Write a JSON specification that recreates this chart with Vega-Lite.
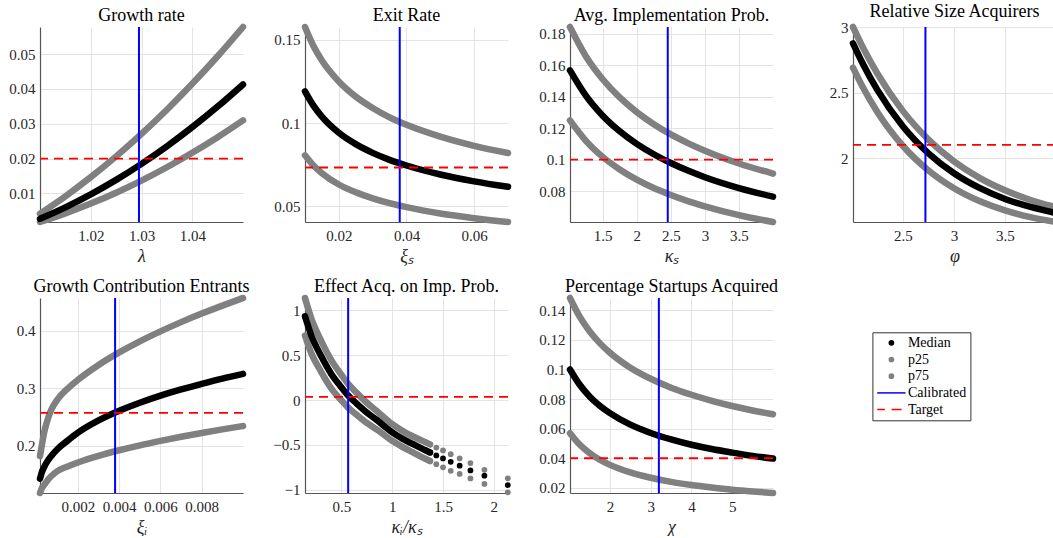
{
  "$schema": "https://vega.github.io/schema/vega-lite/v6.json",
  "usermeta": {"embedOptions": {"actions": false}},
  "background": "white",
  "padding": {"left": 7, "top": 3, "right": 0, "bottom": 0},
  "datasets": {
    "d1": [
      {"x": 1.010, "m": 0.0027, "lo": 0.0018, "hi": 0.0042},
      {"x": 1.015, "m": 0.00599, "lo": 0.00427, "hi": 0.00919},
      {"x": 1.020, "m": 0.00973, "lo": 0.00708, "hi": 0.01468},
      {"x": 1.025, "m": 0.01389, "lo": 0.01022, "hi": 0.02064},
      {"x": 1.030, "m": 0.0185, "lo": 0.0137, "hi": 0.0271},
      {"x": 1.035, "m": 0.02354, "lo": 0.01752, "hi": 0.03404},
      {"x": 1.040, "m": 0.02903, "lo": 0.02168, "hi": 0.04148},
      {"x": 1.045, "m": 0.03494, "lo": 0.02617, "hi": 0.04939},
      {"x": 1.050, "m": 0.0413, "lo": 0.031, "hi": 0.0578}
    ],
    "d2": [
      {"x": 0.010, "m": 0.119, "lo": 0.0806, "hi": 0.1576},
      {"x": 0.0125, "m": 0.1104, "lo": 0.0745, "hi": 0.1462},
      {"x": 0.015, "m": 0.1038, "lo": 0.0699, "hi": 0.1375},
      {"x": 0.020, "m": 0.0941, "lo": 0.0631, "hi": 0.1249},
      {"x": 0.025, "m": 0.0873, "lo": 0.0584, "hi": 0.1158},
      {"x": 0.030, "m": 0.0821, "lo": 0.0548, "hi": 0.1090},
      {"x": 0.035, "m": 0.0779, "lo": 0.0519, "hi": 0.1034},
      {"x": 0.040, "m": 0.0745, "lo": 0.0495, "hi": 0.0989},
      {"x": 0.050, "m": 0.0691, "lo": 0.0457, "hi": 0.0918},
      {"x": 0.060, "m": 0.0650, "lo": 0.0429, "hi": 0.0863},
      {"x": 0.070, "m": 0.0617, "lo": 0.0406, "hi": 0.0820}
    ],
    "d3": [
      {"x": 1.02, "m": 0.1567, "lo": 0.1249, "hi": 0.1843},
      {"x": 1.25, "m": 0.1408, "lo": 0.1121, "hi": 0.1659},
      {"x": 1.5, "m": 0.1279, "lo": 0.1017, "hi": 0.1511},
      {"x": 1.75, "m": 0.1180, "lo": 0.0937, "hi": 0.1395},
      {"x": 2.0, "m": 0.1100, "lo": 0.0872, "hi": 0.1302},
      {"x": 2.25, "m": 0.1034, "lo": 0.0819, "hi": 0.1225},
      {"x": 2.5, "m": 0.0978, "lo": 0.0775, "hi": 0.1160},
      {"x": 2.75, "m": 0.0930, "lo": 0.0736, "hi": 0.1105},
      {"x": 3.0, "m": 0.0888, "lo": 0.0703, "hi": 0.1056},
      {"x": 3.5, "m": 0.0819, "lo": 0.0647, "hi": 0.0975},
      {"x": 4.0, "m": 0.0764, "lo": 0.0603, "hi": 0.0911}
    ],
    "d4": [
      {"x": 2.01, "m": 2.875, "lo": 2.690, "hi": 3.000},
      {"x": 2.1, "m": 2.729, "lo": 2.550, "hi": 2.855},
      {"x": 2.25, "m": 2.518, "lo": 2.350, "hi": 2.643},
      {"x": 2.5, "m": 2.241, "lo": 2.092, "hi": 2.358},
      {"x": 2.75, "m": 2.036, "lo": 1.905, "hi": 2.141},
      {"x": 3.0, "m": 1.884, "lo": 1.770, "hi": 1.975},
      {"x": 3.25, "m": 1.772, "lo": 1.672, "hi": 1.849},
      {"x": 3.5, "m": 1.688, "lo": 1.601, "hi": 1.754},
      {"x": 3.75, "m": 1.627, "lo": 1.549, "hi": 1.680},
      {"x": 4.0, "m": 1.581, "lo": 1.512, "hi": 1.625}
    ],
    "d5": [
      {"x": 0.00016, "m": 0.143, "lo": 0.118, "hi": 0.182},
      {"x": 0.00026, "m": 0.155, "lo": 0.127, "hi": 0.203},
      {"x": 0.00036, "m": 0.163, "lo": 0.132, "hi": 0.223},
      {"x": 0.0005, "m": 0.172, "lo": 0.139, "hi": 0.242},
      {"x": 0.0007, "m": 0.182, "lo": 0.147, "hi": 0.262},
      {"x": 0.001, "m": 0.194, "lo": 0.156, "hi": 0.280},
      {"x": 0.0015, "m": 0.209, "lo": 0.1641, "hi": 0.2993},
      {"x": 0.002, "m": 0.2228, "lo": 0.1710, "hi": 0.3146},
      {"x": 0.003, "m": 0.2440, "lo": 0.1825, "hi": 0.3404},
      {"x": 0.004, "m": 0.2607, "lo": 0.1922, "hi": 0.3622},
      {"x": 0.005, "m": 0.2747, "lo": 0.2008, "hi": 0.3814},
      {"x": 0.006, "m": 0.2870, "lo": 0.2085, "hi": 0.3987},
      {"x": 0.007, "m": 0.2978, "lo": 0.2156, "hi": 0.4147},
      {"x": 0.008, "m": 0.3075, "lo": 0.2222, "hi": 0.4295},
      {"x": 0.009, "m": 0.3166, "lo": 0.2284, "hi": 0.4434},
      {"x": 0.010, "m": 0.3248, "lo": 0.2343, "hi": 0.4566}
    ],
    "d6": [
      {"x": 0.141, "m": 0.933, "lo": 0.719, "hi": 1.138},
      {"x": 0.2, "m": 0.73, "lo": 0.53, "hi": 0.92},
      {"x": 0.3, "m": 0.49, "lo": 0.315, "hi": 0.66},
      {"x": 0.4, "m": 0.29, "lo": 0.13, "hi": 0.445},
      {"x": 0.5, "m": 0.14, "lo": -0.005, "hi": 0.28},
      {"x": 0.566, "m": 0.05, "lo": -0.085, "hi": 0.18},
      {"x": 0.65, "m": -0.04, "lo": -0.165, "hi": 0.08},
      {"x": 0.75, "m": -0.14, "lo": -0.255, "hi": -0.03},
      {"x": 0.85, "m": -0.225, "lo": -0.33, "hi": -0.125},
      {"x": 1.0, "m": -0.36, "lo": -0.455, "hi": -0.27},
      {"x": 1.1, "m": -0.43, "lo": -0.523, "hi": -0.342},
      {"x": 1.2, "m": -0.49, "lo": -0.582, "hi": -0.404},
      {"x": 1.326, "m": -0.56, "lo": -0.655, "hi": -0.47},
      {"x": 1.372, "m": -0.585, "lo": -0.68, "hi": -0.495},
      {"x": 1.434, "m": -0.618, "lo": -0.715, "hi": -0.53},
      {"x": 1.5, "m": -0.652, "lo": -0.75, "hi": -0.562},
      {"x": 1.576, "m": -0.689, "lo": -0.789, "hi": -0.604},
      {"x": 1.664, "m": -0.733, "lo": -0.825, "hi": -0.652},
      {"x": 1.77, "m": -0.785, "lo": -0.874, "hi": -0.703},
      {"x": 1.908, "m": -0.844, "lo": -0.936, "hi": -0.778},
      {"x": 2.138, "m": -0.948, "lo": -1.029, "hi": -0.873}
    ],
    "d7": [
      {"x": 1.02, "m": 0.1, "lo": 0.0569, "hi": 0.1483},
      {"x": 1.25, "m": 0.0900, "lo": 0.0494, "hi": 0.1360},
      {"x": 1.5, "m": 0.0818, "lo": 0.0435, "hi": 0.1258},
      {"x": 1.75, "m": 0.0755, "lo": 0.0390, "hi": 0.1178},
      {"x": 2.0, "m": 0.0705, "lo": 0.0355, "hi": 0.1113},
      {"x": 2.5, "m": 0.0627, "lo": 0.0304, "hi": 0.1012},
      {"x": 3.0, "m": 0.0571, "lo": 0.0268, "hi": 0.0937},
      {"x": 3.5, "m": 0.0527, "lo": 0.0240, "hi": 0.0877},
      {"x": 4.0, "m": 0.0491, "lo": 0.0219, "hi": 0.0829},
      {"x": 4.5, "m": 0.0462, "lo": 0.0202, "hi": 0.0788},
      {"x": 5.0, "m": 0.0438, "lo": 0.0187, "hi": 0.0753},
      {"x": 5.5, "m": 0.0416, "lo": 0.0175, "hi": 0.0723},
      {"x": 6.0, "m": 0.0398, "lo": 0.0165, "hi": 0.0697}
    ],
    "ref": [
      {"p": 1, "cal": 1.0295, "tgt": 0.02},
      {"p": 2, "cal": 0.038, "tgt": 0.0733},
      {"p": 3, "cal": 2.455, "tgt": 0.1},
      {"p": 4, "cal": 2.72, "tgt": 2.1},
      {"p": 5, "cal": 0.0038, "tgt": 0.257},
      {"p": 6, "cal": 0.566, "tgt": 0.035},
      {"p": 7, "cal": 3.2, "tgt": 0.04}
    ]
  },
  "vconcat": [
    {
      "hconcat": [
        {
          "hconcat": [
            {
              "title": "Growth rate",
              "width": 203, "height": 195,
              "data": {"name": "d1"},
              "layer": [
                {"transform": [{"fold": ["lo", "hi"], "as": ["s", "v"]}],
                 "mark": {"type": "line", "color": "#808080", "strokeWidth": 6.5, "strokeCap": "round", "strokeJoin": "round", "interpolate": "monotone"},
                 "encoding": {
                   "x": {"field": "x", "type": "quantitative", "title": "λ", "scale": {"domain": [1.01, 1.05], "nice": false, "zero": false}, "axis": {"values": [1.02, 1.03, 1.04], "format": "~g", "labelOverlap": false, "tickCount": 12}},
                   "y": {"field": "v", "type": "quantitative", "title": " ", "scale": {"domain": [0.0018, 0.0578], "nice": false, "zero": false}, "axis": {"values": [0.01, 0.02, 0.03, 0.04, 0.05], "format": "~g", "labelOverlap": false, "tickCount": 12}},
                   "detail": {"field": "s"}}},
                {"mark": {"type": "line", "color": "#000000", "strokeWidth": 6.5, "strokeCap": "round", "strokeJoin": "round", "interpolate": "monotone"},
                 "encoding": {"x": {"field": "x", "type": "quantitative", "title": "λ"}, "y": {"field": "m", "type": "quantitative", "title": " "}}},
                {"data": {"name": "ref"}, "transform": [{"filter": "datum.p == 1"}],
                 "mark": {"type": "rule", "color": "#0000ff", "strokeWidth": 2},
                 "encoding": {"x": {"field": "cal", "type": "quantitative", "title": "λ"}}},
                {"data": {"name": "ref"}, "transform": [{"filter": "datum.p == 1"}],
                 "mark": {"type": "rule", "color": "#ff0000", "strokeWidth": 1.8, "strokeDash": [9, 6]},
                 "encoding": {"y": {"field": "tgt", "type": "quantitative", "title": " "}}}
              ]
            },
            {
              "title": "Exit Rate",
              "width": 203, "height": 195,
              "data": {"name": "d2"},
              "layer": [
                {"transform": [{"fold": ["lo", "hi"], "as": ["s", "v"]}],
                 "mark": {"type": "line", "color": "#808080", "strokeWidth": 6.5, "strokeCap": "round", "strokeJoin": "round", "interpolate": "monotone"},
                 "encoding": {
                   "x": {"field": "x", "type": "quantitative", "title": "ξₛ", "scale": {"domain": [0.01, 0.07], "nice": false, "zero": false}, "axis": {"values": [0.02, 0.04, 0.06], "format": "~g", "labelOverlap": false, "tickCount": 12}},
                   "y": {"field": "v", "type": "quantitative", "title": " ", "scale": {"domain": [0.0406, 0.1576], "nice": false, "zero": false}, "axis": {"values": [0.05, 0.1, 0.15], "format": "~g", "labelOverlap": false, "tickCount": 12}},
                   "detail": {"field": "s"}}},
                {"mark": {"type": "line", "color": "#000000", "strokeWidth": 6.5, "strokeCap": "round", "strokeJoin": "round", "interpolate": "monotone"},
                 "encoding": {"x": {"field": "x", "type": "quantitative", "title": "ξₛ"}, "y": {"field": "m", "type": "quantitative", "title": " "}}},
                {"data": {"name": "ref"}, "transform": [{"filter": "datum.p == 2"}],
                 "mark": {"type": "rule", "color": "#0000ff", "strokeWidth": 2},
                 "encoding": {"x": {"field": "cal", "type": "quantitative", "title": "ξₛ"}}},
                {"data": {"name": "ref"}, "transform": [{"filter": "datum.p == 2"}],
                 "mark": {"type": "rule", "color": "#ff0000", "strokeWidth": 1.8, "strokeDash": [9, 6]},
                 "encoding": {"y": {"field": "tgt", "type": "quantitative", "title": " "}}}
              ]
            },
            {
              "title": "Avg. Implementation Prob.",
              "width": 203, "height": 195,
              "data": {"name": "d3"},
              "layer": [
                {"transform": [{"fold": ["lo", "hi"], "as": ["s", "v"]}],
                 "mark": {"type": "line", "color": "#808080", "strokeWidth": 6.5, "strokeCap": "round", "strokeJoin": "round", "interpolate": "monotone"},
                 "encoding": {
                   "x": {"field": "x", "type": "quantitative", "title": "κₛ", "scale": {"domain": [1.02, 4.0], "nice": false, "zero": false}, "axis": {"values": [1.5, 2, 2.5, 3, 3.5], "format": "~g", "labelOverlap": false, "tickCount": 12}},
                   "y": {"field": "v", "type": "quantitative", "title": " ", "scale": {"domain": [0.0603, 0.1843], "nice": false, "zero": false}, "axis": {"values": [0.08, 0.1, 0.12, 0.14, 0.16, 0.18], "format": "~g", "labelOverlap": false, "tickCount": 12}},
                   "detail": {"field": "s"}}},
                {"mark": {"type": "line", "color": "#000000", "strokeWidth": 6.5, "strokeCap": "round", "strokeJoin": "round", "interpolate": "monotone"},
                 "encoding": {"x": {"field": "x", "type": "quantitative", "title": "κₛ"}, "y": {"field": "m", "type": "quantitative", "title": " "}}},
                {"data": {"name": "ref"}, "transform": [{"filter": "datum.p == 3"}],
                 "mark": {"type": "rule", "color": "#0000ff", "strokeWidth": 2},
                 "encoding": {"x": {"field": "cal", "type": "quantitative", "title": "κₛ"}}},
                {"data": {"name": "ref"}, "transform": [{"filter": "datum.p == 3"}],
                 "mark": {"type": "rule", "color": "#ff0000", "strokeWidth": 1.8, "strokeDash": [9, 6]},
                 "encoding": {"y": {"field": "tgt", "type": "quantitative", "title": " "}}}
              ]
            }
          ],
          "spacing": 62, "bounds": "flush"
        },
        {
          "title": "Relative Size Acquirers",
          "width": 203, "height": 195,
          "data": {"name": "d4"},
          "layer": [
            {"transform": [{"fold": ["lo", "hi"], "as": ["s", "v"]}],
             "mark": {"type": "line", "color": "#808080", "strokeWidth": 6.5, "strokeCap": "round", "strokeJoin": "round", "interpolate": "monotone"},
             "encoding": {
               "x": {"field": "x", "type": "quantitative", "title": "φ", "scale": {"domain": [2.01, 4.0], "nice": false, "zero": false}, "axis": {"values": [2.5, 3, 3.5], "format": "~g", "labelOverlap": false, "tickCount": 12}},
               "y": {"field": "v", "type": "quantitative", "title": " ", "scale": {"domain": [1.512, 3.0], "nice": false, "zero": false}, "axis": {"values": [2, 2.5, 3], "format": "~g", "labelOverlap": false, "tickCount": 12}},
               "detail": {"field": "s"}}},
            {"mark": {"type": "line", "color": "#000000", "strokeWidth": 6.5, "strokeCap": "round", "strokeJoin": "round", "interpolate": "monotone"},
             "encoding": {"x": {"field": "x", "type": "quantitative", "title": "φ"}, "y": {"field": "m", "type": "quantitative", "title": " "}}},
            {"data": {"name": "ref"}, "transform": [{"filter": "datum.p == 4"}],
             "mark": {"type": "rule", "color": "#0000ff", "strokeWidth": 2},
             "encoding": {"x": {"field": "cal", "type": "quantitative", "title": "φ"}}},
            {"data": {"name": "ref"}, "transform": [{"filter": "datum.p == 4"}],
             "mark": {"type": "rule", "color": "#ff0000", "strokeWidth": 1.8, "strokeDash": [9, 6]},
             "encoding": {"y": {"field": "tgt", "type": "quantitative", "title": " "}}}
          ]
        }
      ],
      "spacing": 43
    },
    {
      "hconcat": [
        {
          "title": "Growth Contribution Entrants",
          "width": 203, "height": 195,
          "data": {"name": "d5"},
          "layer": [
            {"transform": [{"fold": ["lo", "hi"], "as": ["s", "v"]}],
             "mark": {"type": "line", "color": "#808080", "strokeWidth": 6.5, "strokeCap": "round", "strokeJoin": "round", "interpolate": "monotone"},
             "encoding": {
               "x": {"field": "x", "type": "quantitative", "title": "ξᵢ", "scale": {"domain": [0.00016, 0.01], "nice": false, "zero": false}, "axis": {"values": [0.002, 0.004, 0.006, 0.008], "format": "~g", "labelOverlap": false, "tickCount": 12}},
               "y": {"field": "v", "type": "quantitative", "title": " ", "scale": {"domain": [0.118, 0.4566], "nice": false, "zero": false}, "axis": {"values": [0.2, 0.3, 0.4], "format": "~g", "labelOverlap": false, "tickCount": 12}},
               "detail": {"field": "s"}}},
            {"mark": {"type": "line", "color": "#000000", "strokeWidth": 6.5, "strokeCap": "round", "strokeJoin": "round", "interpolate": "monotone"},
             "encoding": {"x": {"field": "x", "type": "quantitative", "title": "ξᵢ"}, "y": {"field": "m", "type": "quantitative", "title": " "}}},
            {"data": {"name": "ref"}, "transform": [{"filter": "datum.p == 5"}],
             "mark": {"type": "rule", "color": "#0000ff", "strokeWidth": 2},
             "encoding": {"x": {"field": "cal", "type": "quantitative", "title": "ξᵢ"}}},
            {"data": {"name": "ref"}, "transform": [{"filter": "datum.p == 5"}],
             "mark": {"type": "rule", "color": "#ff0000", "strokeWidth": 1.8, "strokeDash": [9, 6]},
             "encoding": {"y": {"field": "tgt", "type": "quantitative", "title": " "}}}
          ]
        },
        {
          "title": "Effect Acq. on Imp. Prob.",
          "width": 203, "height": 195,
          "data": {"name": "d6"},
          "layer": [
            {"transform": [{"filter": "datum.x <= 1.372"}, {"fold": ["lo", "hi"], "as": ["s", "v"]}],
             "mark": {"type": "line", "color": "#808080", "strokeWidth": 6.5, "strokeCap": "round", "strokeJoin": "round", "interpolate": "monotone"},
             "encoding": {
               "x": {"field": "x", "type": "quantitative", "title": "κᵢ/κₛ", "scale": {"domain": [0.141, 2.14], "nice": false, "zero": false}, "axis": {"values": [0.5, 1, 1.5, 2], "format": "~g", "labelOverlap": false, "tickCount": 12}},
               "y": {"field": "v", "type": "quantitative", "title": " ", "scale": {"domain": [-1.037, 1.138], "nice": false, "zero": false}, "axis": {"values": [-1, -0.5, 0, 0.5, 1], "format": "~g", "labelOverlap": false, "tickCount": 12}},
               "detail": {"field": "s"}}},
            {"transform": [{"fold": ["lo", "hi"], "as": ["s", "v"]}],
             "mark": {"type": "circle", "color": "#808080", "size": 33, "opacity": 1},
             "encoding": {"x": {"field": "x", "type": "quantitative", "title": "κᵢ/κₛ"}, "y": {"field": "v", "type": "quantitative", "title": " "}}},
            {"transform": [{"filter": "datum.x <= 1.372"}],
             "mark": {"type": "line", "color": "#000000", "strokeWidth": 6.5, "strokeCap": "round", "strokeJoin": "round", "interpolate": "monotone"},
             "encoding": {"x": {"field": "x", "type": "quantitative", "title": "κᵢ/κₛ"}, "y": {"field": "m", "type": "quantitative", "title": " "}}},
            {"mark": {"type": "circle", "color": "#000000", "size": 33, "opacity": 1},
             "encoding": {"x": {"field": "x", "type": "quantitative", "title": "κᵢ/κₛ"}, "y": {"field": "m", "type": "quantitative", "title": " "}}},
            {"data": {"name": "ref"}, "transform": [{"filter": "datum.p == 6"}],
             "mark": {"type": "rule", "color": "#0000ff", "strokeWidth": 2},
             "encoding": {"x": {"field": "cal", "type": "quantitative", "title": "κᵢ/κₛ"}}},
            {"data": {"name": "ref"}, "transform": [{"filter": "datum.p == 6"}],
             "mark": {"type": "rule", "color": "#ff0000", "strokeWidth": 1.8, "strokeDash": [9, 6]},
             "encoding": {"y": {"field": "tgt", "type": "quantitative", "title": " "}}}
          ]
        },
        {
          "title": "Percentage Startups Acquired",
          "width": 203, "height": 195,
          "data": {"name": "d7"},
          "layer": [
            {"transform": [{"fold": ["lo", "hi"], "as": ["s", "v"]}],
             "mark": {"type": "line", "color": "#808080", "strokeWidth": 6.5, "strokeCap": "round", "strokeJoin": "round", "interpolate": "monotone"},
             "encoding": {
               "x": {"field": "x", "type": "quantitative", "title": "χ", "scale": {"domain": [1.02, 6.0], "nice": false, "zero": false}, "axis": {"values": [2, 3, 4, 5], "format": "~g", "labelOverlap": false, "tickCount": 12}},
               "y": {"field": "v", "type": "quantitative", "title": " ", "scale": {"domain": [0.0165, 0.1483], "nice": false, "zero": false}, "axis": {"values": [0.02, 0.04, 0.06, 0.08, 0.1, 0.12, 0.14], "format": "~g", "labelOverlap": false, "tickCount": 12}},
               "detail": {"field": "s"}}},
            {"mark": {"type": "line", "color": "#000000", "strokeWidth": 6.5, "strokeCap": "round", "strokeJoin": "round", "interpolate": "monotone"},
             "encoding": {"x": {"field": "x", "type": "quantitative", "title": "χ"}, "y": {"field": "m", "type": "quantitative", "title": " "}}},
            {"data": {"name": "ref"}, "transform": [{"filter": "datum.p == 7"}],
             "mark": {"type": "rule", "color": "#0000ff", "strokeWidth": 2},
             "encoding": {"x": {"field": "cal", "type": "quantitative", "title": "χ"}}},
            {"data": {"name": "ref"}, "transform": [{"filter": "datum.p == 7"}],
             "mark": {"type": "rule", "color": "#ff0000", "strokeWidth": 1.8, "strokeDash": [9, 6]},
             "encoding": {"y": {"field": "tgt", "type": "quantitative", "title": " "}}},
            {"data": {"values": []},
             "mark": {"type": "point", "filled": true},
             "encoding": {
               "fill": {"field": "s", "type": "nominal",
                        "scale": {"domain": ["Median", "p25", "p75", "Calibrated", "Target"], "range": ["#000000", "#808080", "#808080", "transparent", "transparent"]},
                        "legend": {"orient": "none", "legendX": 832.4, "legendY": 305.3, "title": null, "symbolSize": 100, "symbolStrokeWidth": 1.5, "symbolFillColor": "transparent", "symbolStrokeColor": "transparent", "symbolOpacity": 1, "labelFont": "Liberation Serif", "labelFontSize": 14, "labelColor": "#000000", "labelOffset": 18, "padding": 3.5, "rowPadding": 2.7, "strokeColor": "#333333", "fillColor": "#ffffff"}},
               "stroke": {"field": "s", "type": "nominal",
                        "scale": {"domain": ["Median", "p25", "p75", "Calibrated", "Target"], "range": ["#000000", "#808080", "#808080", "#0000ff", "#ff0000"]},
                        "legend": {"orient": "none", "legendX": 832.4, "legendY": 305.3, "title": null, "symbolSize": 100, "symbolStrokeWidth": 1.5, "symbolFillColor": "transparent", "symbolStrokeColor": "transparent", "symbolOpacity": 1, "labelFont": "Liberation Serif", "labelFontSize": 14, "labelColor": "#000000", "labelOffset": 18, "padding": 3.5, "rowPadding": 2.7, "strokeColor": "#333333", "fillColor": "#ffffff"}},
               "shape": {"field": "s", "type": "nominal",
                        "scale": {"domain": ["Median", "p25", "p75", "Calibrated", "Target"], "range": ["M1.28,0A0.42,0.42,0,1,1,2.12,0A0.42,0.42,0,1,1,1.28,0Z", "M1.28,0A0.42,0.42,0,1,1,2.12,0A0.42,0.42,0,1,1,1.28,0Z", "M1.28,0A0.42,0.42,0,1,1,2.12,0A0.42,0.42,0,1,1,1.28,0Z", "M-1.13,0H4.53", "M-1.13,0H0.4M1.73,0H3.74"]},
                        "legend": {"orient": "none", "legendX": 832.4, "legendY": 305.3, "title": null, "symbolSize": 100, "symbolStrokeWidth": 1.5, "symbolFillColor": "transparent", "symbolStrokeColor": "transparent", "symbolOpacity": 1, "labelFont": "Liberation Serif", "labelFontSize": 14, "labelColor": "#000000", "labelOffset": 18, "padding": 3.5, "rowPadding": 2.7, "strokeColor": "#333333", "fillColor": "#ffffff"}}
             }}
          ]
        }
      ],
      "spacing": 62, "bounds": "flush"
    }
  ],
  "spacing": 12,
  "config": {
    "font": "Liberation Serif",
    "view": {"stroke": null},
    "title": {"fontSize": 18, "fontWeight": "normal", "color": "#000000", "offset": -1, "anchor": "middle", "frame": "group"},
    "axis": {
      "labelFontSize": 15, "labelColor": "#262626", "labelFlush": false, "labelOverlap": false,
      "titleFontWeight": "normal", "titleColor": "#262626",
      "domainColor": "#555555", "domainWidth": 1.2, "ticks": false,
      "gridColor": "#e3e3e3", "gridWidth": 1
    },
    "axisX": {"labelPadding": 6, "titlePadding": 4, "titleFontSize": 18, "titleFontStyle": "italic"},
    "axisY": {"labelPadding": 5, "titlePadding": 0, "titleFontSize": 1, "minExtent": 32, "maxExtent": 32}
  }
}
